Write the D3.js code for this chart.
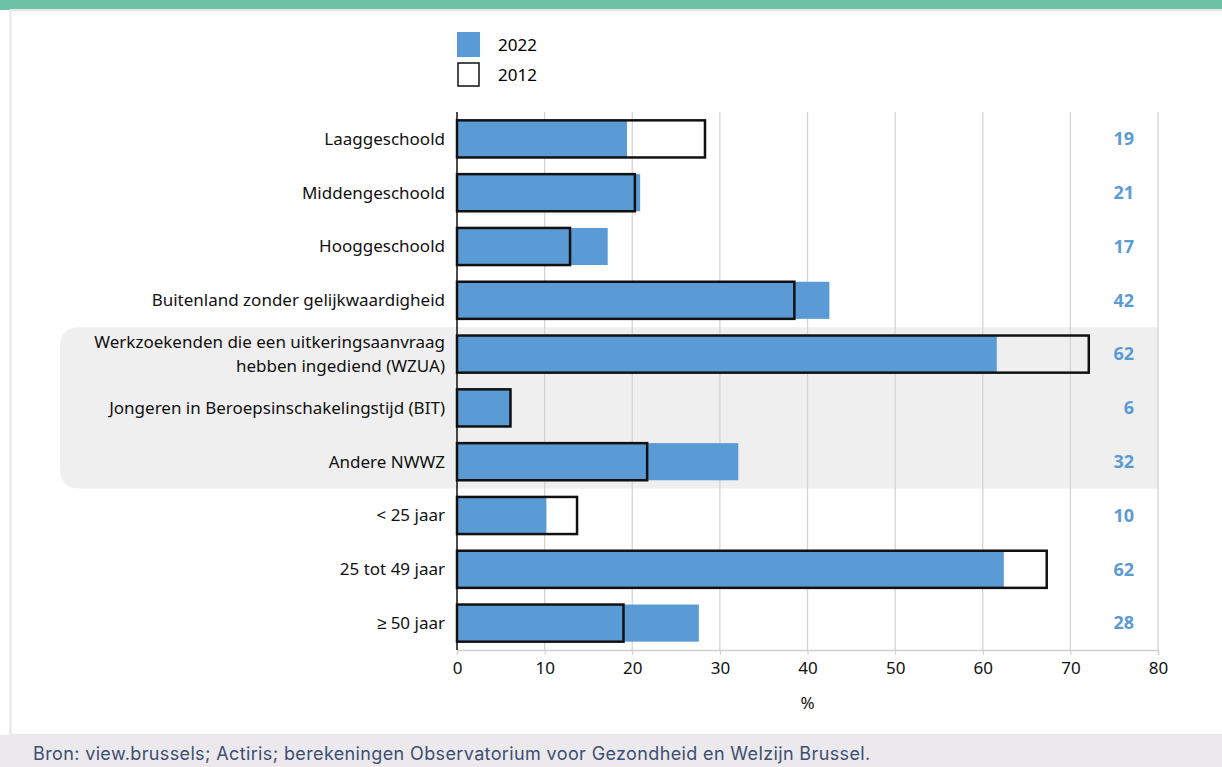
<!DOCTYPE html>
<html>
<head>
<meta charset="utf-8">
<script src="https://cdn.jsdelivr.net/npm/d3@7"></script>
<style>
  body { margin: 0; background: #fff; }
  svg { display: block; }
</style>
</head>
<body>
<div id="chart"></div>
<script>
// categories and values
const categories = [
    "Laaggeschoold",
    "Middengeschoold",
    "Hooggeschoold",
    "Buitenland zonder gelijkwaardigheid",
    "Werkzoekenden die een uitkeringsaanvraag|hebben ingediend (WZUA)",
    "Jongeren in Beroepsinschakelingstijd (BIT)",
    "Andere NWWZ",
    "< 25 jaar",
    "25 tot 49 jaar",
    "≥ 50 jaar"
];
const values2022 = [19.4, 20.9, 17.2, 42.5, 61.6, 6.2, 32.1, 10.2, 62.4, 27.6];
const values2012 = [28.3, 20.3, 12.9, 38.5, 72.1, 6.1, 21.7, 13.7, 67.3, 19.0];
const valueLabels = ["19", "21", "17", "42", "62", "6", "32", "10", "62", "28"];
const xTicks = [0, 10, 20, 30, 40, 50, 60, 70, 80];
const highlighted = [4, 5, 6];

const width = 1222, height = 767;
const margin = { top: 112, right: 64, bottom: 117, left: 457 };
const blue = "#5b9bd5";

const svg = d3.select("#chart").append("svg")
    .attr("width", width)
    .attr("height", height);

// page frame
svg.append("rect").attr("x", 0).attr("y", 0).attr("width", width).attr("height", 10).attr("fill", "#6cc2a4");
svg.append("rect").attr("x", 10.5).attr("y", 10).attr("width", width).attr("height", 725)
    .attr("fill", "#fff").attr("stroke", "#e6e6e6").attr("stroke-width", 2);
svg.append("rect").attr("x", 0).attr("y", 735).attr("width", width).attr("height", 32).attr("fill", "#ebe9ec");
svg.append("text")
    .attr("x", 33).attr("y", 760)
    .attr("font-family", "Inter, sans-serif")
    .attr("font-size", 18)
    .attr("letter-spacing", 0.37)
    .attr("fill", "#3d4f73")
    .text("Bron: view.brussels; Actiris; berekeningen Observatorium voor Gezondheid en Welzijn Brussel.");

const x = d3.scaleLinear()
    .domain([0, 80])
    .range([margin.left, width - margin.right]);

const y = d3.scaleBand()
    .domain(d3.range(categories.length))
    .range([margin.top, height - margin.bottom])
    .paddingInner(0.31)
    .paddingOuter(0.155);

const step = y.step();
const plotRight = x(80);

// highlighted block (grey with rounded left corners)
const hTop = margin.top + highlighted[0] * step;
const hBot = margin.top + (highlighted[highlighted.length - 1] + 1) * step;
const r = 20, hLeft = 60;
svg.append("path")
    .attr("d", `M${plotRight},${hTop} L${hLeft + r},${hTop} Q${hLeft},${hTop} ${hLeft},${hTop + r}
                L${hLeft},${hBot - r} Q${hLeft},${hBot} ${hLeft + r},${hBot} L${plotRight},${hBot} Z`)
    .attr("fill", "#efefef");

// vertical grid
svg.append("g")
    .selectAll("line")
    .data(xTicks.slice(1))
    .enter()
    .append("line")
    .attr("x1", d => x(d)).attr("x2", d => x(d))
    .attr("y1", margin.top).attr("y2", height - margin.bottom)
    .attr("stroke", "#d4d4d4")
    .attr("stroke-width", 1.3);

// x axis
const xAxis = svg.append("g")
    .attr("transform", `translate(0,${height - margin.bottom})`)
    .call(d3.axisBottom(x).tickValues(xTicks).tickSize(5).tickFormat(d3.format("d")));
xAxis.select(".domain").attr("stroke", "#cfcfcf").attr("stroke-width", 1.5);
xAxis.selectAll(".tick line").attr("stroke", "#cfcfcf");
xAxis.selectAll("text")
    .attr("font-family", "'Noto Sans', sans-serif")
    .attr("font-size", 17)
    .attr("fill", "#111")
    .attr("dy", "0.95em");

svg.append("text")
    .attr("x", x(40)).attr("y", 709)
    .attr("text-anchor", "middle")
    .attr("font-family", "'Noto Sans', sans-serif")
    .attr("font-size", 17)
    .attr("fill", "#111")
    .text("%");

// 2022 bars
svg.append("g")
    .selectAll("rect")
    .data(values2022)
    .enter()
    .append("rect")
    .attr("x", x(0))
    .attr("y", (d, i) => y(i))
    .attr("width", d => x(d) - x(0))
    .attr("height", y.bandwidth())
    .attr("fill", blue);

// 2012 outlines
svg.append("g")
    .selectAll("rect")
    .data(values2012)
    .enter()
    .append("rect")
    .attr("x", x(0))
    .attr("y", (d, i) => y(i))
    .attr("width", d => x(d) - x(0))
    .attr("height", y.bandwidth())
    .attr("fill", "none")
    .attr("stroke", "#111")
    .attr("stroke-width", 2.5);

// left axis line
svg.append("line")
    .attr("x1", x(0)).attr("x2", x(0))
    .attr("y1", margin.top).attr("y2", height - margin.bottom)
    .attr("stroke", "#111").attr("stroke-width", 1.5);

// category labels
const labels = svg.append("g")
    .selectAll("text")
    .data(categories)
    .enter()
    .append("text")
    .attr("text-anchor", "end")
    .attr("font-family", "'Noto Sans', sans-serif")
    .attr("font-size", 17)
    .attr("fill", "#111")
    .attr("x", x(0) - 12)
    .attr("y", (d, i) => y(i) + y.bandwidth() / 2);
labels.each(function (d) {
    const lines = d.split("|");
    const t = d3.select(this);
    lines.forEach((l, k) => {
        t.append("tspan")
            .attr("x", x(0) - 12)
            .attr("dy", k === 0 ? `${0.35 - (lines.length - 1) * 0.7}em` : "1.4em")
            .text(l);
    });
});

// value labels on the right
svg.append("g")
    .selectAll("text")
    .data(valueLabels)
    .enter()
    .append("text")
    .attr("text-anchor", "end")
    .attr("font-family", "'Noto Sans', sans-serif")
    .attr("font-weight", "bold")
    .attr("font-size", 18)
    .attr("fill", blue)
    .attr("x", 1134)
    .attr("y", (d, i) => y(i) + y.bandwidth() / 2)
    .attr("dy", "0.35em")
    .text(d => d);

// legend
const legend = svg.append("g").attr("font-family", "'Noto Sans', sans-serif").attr("font-size", 17);
legend.append("rect").attr("x", 457).attr("y", 32).attr("width", 23).attr("height", 25).attr("fill", blue);
legend.append("rect").attr("x", 458).attr("y", 63).attr("width", 21).attr("height", 23)
    .attr("fill", "#fff").attr("stroke", "#111").attr("stroke-width", 1.5);
legend.append("text").attr("x", 498).attr("y", 45).attr("dy", "0.35em").text("2022");
legend.append("text").attr("x", 498).attr("y", 75).attr("dy", "0.35em").text("2012");
</script>
</body>
</html>
